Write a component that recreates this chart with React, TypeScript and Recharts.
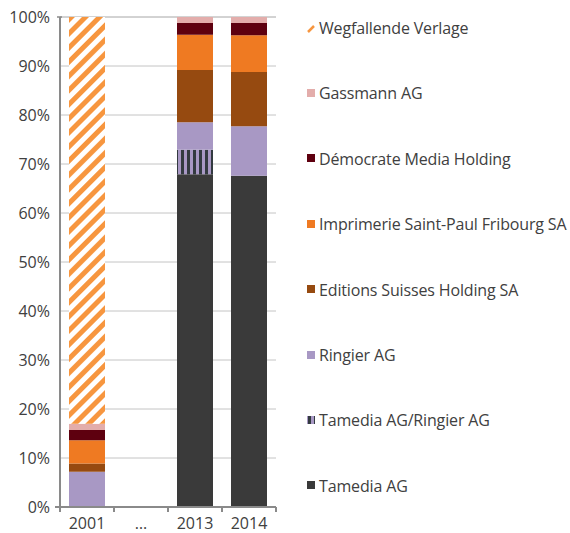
import React from 'react'
import { BarChart, Bar, XAxis, YAxis, CartesianGrid } from 'recharts'

// categories and shares in percent
const years = ['2001', '…', '2013', '2014']
const tamedia = [0, null, 67.9, 67.6]
const tamediaRingier = [0, null, 5.0, 0]
const ringier = [7.2, null, 5.6, 10.1]
const editions = [1.7, null, 10.7, 11.1]
const imprimerie = [4.7, null, 7.2, 7.5]
const democrate = [2.1, null, 2.4, 2.5]
const gassmann = [1.3, null, 1.2, 1.2]
const wegfallende = [83.0, null, 0, 0]
const yTicks = [0, 10, 20, 30, 40, 50, 60, 70, 80, 90, 100]

const SERIES = [
  { key: 'tamedia', name: 'Tamedia AG', fill: '#3a3a3a', values: tamedia },
  { key: 'tamediaRingier', name: 'Tamedia AG/Ringier AG', fill: 'url(#stripesTR)', values: tamediaRingier },
  { key: 'ringier', name: 'Ringier AG', fill: '#a898c4', values: ringier },
  { key: 'editions', name: 'Editions Suisses Holding SA', fill: '#964a10', values: editions },
  { key: 'imprimerie', name: 'Imprimerie Saint-Paul Fribourg SA', fill: '#ef7a22', values: imprimerie },
  { key: 'democrate', name: 'Démocrate Media Holding', fill: '#5e000f', values: democrate },
  { key: 'gassmann', name: 'Gassmann AG', fill: '#e3adab', values: gassmann },
  { key: 'wegfallende', name: 'Wegfallende Verlage', fill: 'url(#stripesWeg)', values: wegfallende },
]

const data = years.map((year, i) => {
  const row: Record<string, string | number | null> = { year }
  SERIES.forEach((s) => {
    row[s.key] = s.values[i]
  })
  return row
})

const CHART_W = 290
const MARGIN = { top: 17, right: 14, left: 0, bottom: 0 }
const Y_W = 60
const BAND = (CHART_W - MARGIN.left - MARGIN.right - Y_W) / years.length
const AXIS = '#8a8a8a'
const TEXT = '#404040'
const FONT = 16

function XTick(props: any) {
  const { x, y, payload, index } = props
  const left = x - BAND / 2
  const right = x + BAND / 2
  return (
    <g>
      <line x1={left} y1={y} x2={left} y2={y + 5} stroke={AXIS} strokeWidth={2} />
      {index === years.length - 1 && (
        <line x1={right} y1={y} x2={right} y2={y + 5} stroke={AXIS} strokeWidth={2} />
      )}
      <text x={x} y={y + 22} textAnchor="middle" fill={TEXT} fontSize={FONT}>
        {payload.value}
      </text>
    </g>
  )
}

// y labels; the axis only shows small caps at 0% and 100%
function YTick(props: any) {
  const { x, y, payload } = props
  const axisX = x + 10
  return (
    <g>
      {payload.value === 100 && (
        <line x1={axisX - 3} y1={y} x2={axisX + 2} y2={y} stroke={AXIS} strokeWidth={1.5} />
      )}
      {payload.value === 0 && (
        <line x1={axisX - 5} y1={y} x2={axisX} y2={y} stroke={AXIS} strokeWidth={2} />
      )}
      <text x={x} y={y} dy="0.36em" textAnchor="end" fill={TEXT} fontSize={FONT}>
        {`${payload.value}%`}
      </text>
    </g>
  )
}

function Marker({ fill, keyName }: { fill: string; keyName: string }) {
  if (keyName === 'wegfallende') {
    return (
      <svg width={9} height={9} style={{ marginRight: 3 }}>
        <line x1={1} y1={8} x2={7} y2={2} stroke="#f7963f" strokeWidth={2.5} />
      </svg>
    )
  }
  return (
    <svg width={9} height={9} style={{ marginRight: 3 }}>
      <rect x={0} y={0} width={8} height={8} fill={fill} />
    </svg>
  )
}

function SideLegend() {
  const items = [...SERIES].reverse()
  return (
    <div style={{ position: 'absolute', left: 307, top: 0 }}>
      {items.map((s, i) => (
        <div
          key={s.key}
          style={{
            position: 'absolute',
            top: 28 + i * 65.4 - 11,
            height: 22,
            display: 'flex',
            alignItems: 'center',
            whiteSpace: 'nowrap',
            fontSize: FONT,
            letterSpacing: -0.15,
            color: TEXT,
          }}
        >
          <Marker fill={s.fill} keyName={s.key} />
          <span>{s.name}</span>
        </div>
      ))}
    </div>
  )
}

export default function App() {
  return (
    <div
      style={{
        position: 'absolute',
        left: 0,
        top: 0,
        width: 570,
        height: 533,
        overflow: 'hidden',
        background: '#fff',
        fontFamily: '"Open Sans", sans-serif',
      }}
    >
      <svg width={0} height={0} style={{ position: 'absolute' }}>
        <defs>
          <pattern id="stripesWeg" width={10} height={10} patternUnits="userSpaceOnUse" patternTransform="rotate(45)">
            <rect x={0} y={0} width={10} height={10} fill="#ffffff" />
            <rect x={0} y={0} width={5} height={10} fill="#f7963f" />
          </pattern>
          <pattern id="stripesTR" x={1} width={6} height={6} patternUnits="userSpaceOnUse">
            <rect x={0} y={0} width={6} height={6} fill="#a898c4" />
            <rect x={0} y={0} width={3} height={6} fill="#333a40" />
          </pattern>
        </defs>
      </svg>
      <BarChart width={CHART_W} height={533} data={data} margin={MARGIN}>
        <CartesianGrid vertical={false} stroke="#c4c4c4" />
        <XAxis
          dataKey="year"
          height={26}
          interval={0}
          axisLine={{ stroke: AXIS, strokeWidth: 2 }}
          tickLine={false}
          tickSize={0}
          tickMargin={0}
          tick={<XTick />}
        />
        <YAxis
          width={Y_W}
          domain={[0, 100]}
          ticks={yTicks}
          interval={0}
          axisLine={{ stroke: AXIS, strokeWidth: 2 }}
          tickLine={false}
          tickSize={0}
          tickMargin={10}
          tick={<YTick />}
        />
        {SERIES.map((s) => (
          <Bar
            key={s.key}
            dataKey={s.key}
            name={s.name}
            stackId="a"
            fill={s.fill}
            barSize={36}
            isAnimationActive={false}
          />
        ))}
      </BarChart>
      <SideLegend />
    </div>
  )
}
